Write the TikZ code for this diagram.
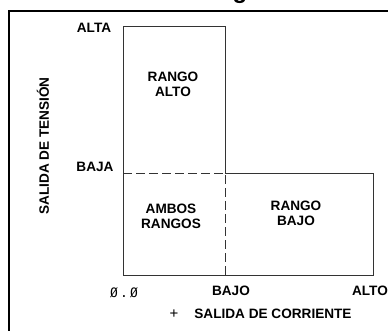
\documentclass[tikz,border=0pt]{standalone}
\usepackage{fontspec}
\setmainfont{Liberation Sans}
\newfontfamily\readout{DejaVu Sans Mono}
\begin{document}
\begin{tikzpicture}[x=1pt, y=-1pt,
    chartline/.style={line width=0.8pt, black!80},
    cutline/.style={chartline, dash pattern=on 9pt off 4pt},
    lbl/.style={font=\fontsize{13.6}{15}\selectfont\bfseries, align=center, inner sep=0pt}]
    \useasboundingbox (0,0) rectangle (388,331);

    % Frame
    \draw[line width=2pt] (9,340) -- (9,11) -- (395,11);
    \node[anchor=base, inner sep=0pt] (title) at (240,-1) {\fontsize{24}{24}\selectfont\bfseries g};

    % Corners of the chart
    \coordinate (topleft) at (123,26);
    \coordinate (topright) at (225,26);
    \coordinate (lowleft) at (123,173);
    \coordinate (mid) at (225,173);
    \coordinate (righttop) at (373,173);
    \coordinate (origin) at (123,275);
    \coordinate (bajo) at (225,275);
    \coordinate (rightbot) at (373,275);

    % Outline of the ranges
    \draw[chartline] (mid) -- (topright) -- (topleft) -- (origin) -- (rightbot) -- (righttop) -- (mid);
    \draw[cutline] (lowleft) -- (mid) -- (bajo);

    % Range names
    \node[lbl] (alto) at (173,84) {RANGO\\ALTO};
    \node[lbl] (ambos) at (171,216) {AMBOS\\RANGOS};
    \node[lbl] (rbajo) at (296,213) {RANGO\\BAJO};

    % Voltage axis
    \node[lbl] (valta) at (94,28) {ALTA};
    \node[lbl] (vbaja) at (95,167) {BAJA};
    \node[lbl, rotate=90] (vaxis) at (43,146) {SALIDA DE TENSIÓN};

    % Current axis
    \node[inner sep=0pt] (zero) at (124,293) {\readout\fontsize{13}{13}\selectfont Ø\,.\,Ø};
    \node[lbl] (cbajo) at (231,291) {BAJO};
    \node[lbl] (calto) at (370,291) {ALTO};
    \node[inner sep=0pt] (plus) at (174,314) {\fontsize{15}{15}\selectfont +};
    \node[lbl] (caxis) at (273,314) {SALIDA DE CORRIENTE};
\end{tikzpicture}
\end{document}
